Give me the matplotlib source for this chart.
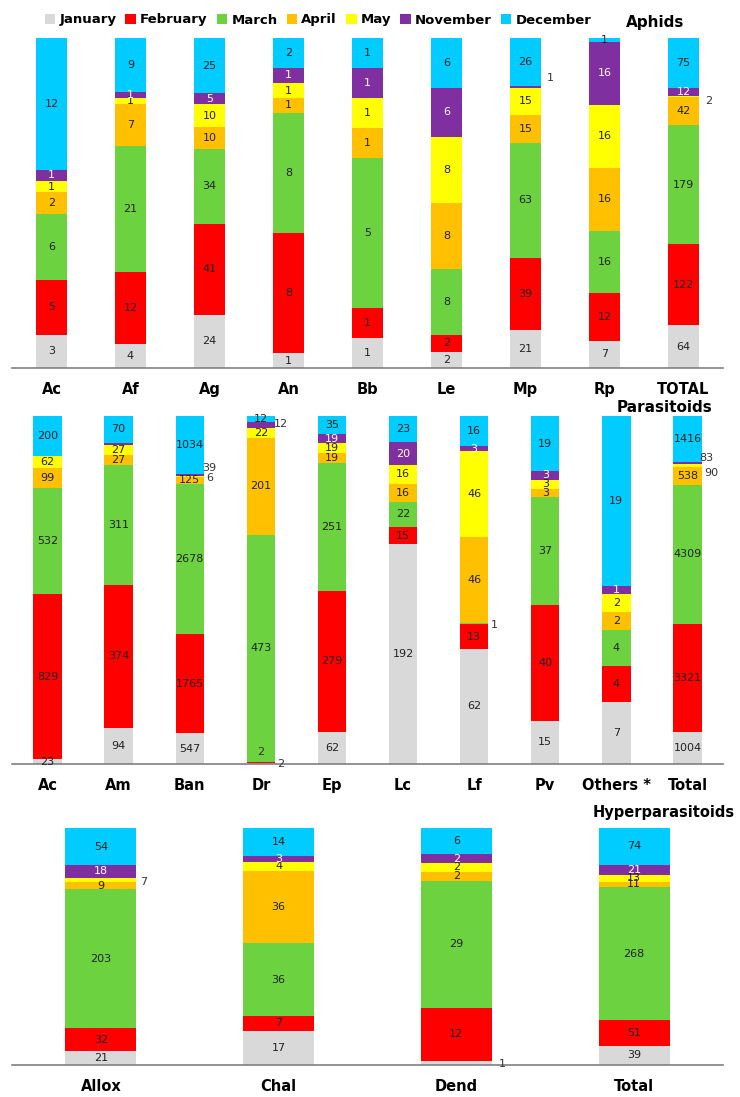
import matplotlib
matplotlib.use('Agg')
import matplotlib.pyplot as plt
import numpy as np

months = ['January', 'February', 'March', 'April', 'May', 'November', 'December']
month_colors = ['#D9D9D9', '#FF0000', '#6CD23F', '#FFC000', '#FFFF00', '#7F2FA0', '#00CCFF']

# Aphids (Jan, Feb, Mar, Apr, May, Nov, Dec)
aphid_names = ['Ac', 'Af', 'Ag', 'An', 'Bb', 'Le', 'Mp', 'Rp', 'TOTAL']
aphid_jan = [3, 4, 24, 1, 1, 2, 21, 7, 64]
aphid_feb = [5, 12, 41, 8, 1, 2, 39, 12, 122]
aphid_mar = [6, 21, 34, 8, 5, 8, 63, 16, 179]
aphid_apr = [2, 7, 10, 1, 1, 8, 15, 16, 42]
aphid_may = [1, 1, 10, 1, 1, 8, 15, 16, 2]
aphid_nov = [1, 1, 5, 1, 1, 6, 1, 16, 12]
aphid_dec = [12, 9, 25, 2, 1, 6, 26, 1, 75]

# Parasitoids
para_names = ['Ac', 'Am', 'Ban', 'Dr', 'Ep', 'Lc', 'Lf', 'Pv', 'Others *', 'Total']
para_jan = [23, 94, 547, 2, 62, 192, 62, 15, 7, 1004]
para_feb = [829, 374, 1765, 2, 279, 15, 13, 40, 4, 3321]
para_mar = [532, 311, 2678, 473, 251, 22, 1, 37, 4, 4309]
para_apr = [99, 27, 125, 201, 19, 16, 46, 3, 2, 538]
para_may = [62, 27, 6, 22, 19, 16, 46, 3, 2, 90]
para_nov = [0, 5, 39, 12, 19, 20, 3, 3, 1, 83]
para_dec = [200, 70, 1034, 12, 35, 23, 16, 19, 19, 1416]

# Hyperparasitoids
hyper_names = ['Allox', 'Chal', 'Dend', 'Total']
hyper_jan = [21, 17, 1, 39]
hyper_feb = [32, 7, 12, 51]
hyper_mar = [203, 36, 29, 268]
hyper_apr = [9, 36, 2, 11]
hyper_may = [7, 4, 2, 13]
hyper_nov = [18, 3, 2, 21]
hyper_dec = [54, 14, 6, 74]

# labels moved off their segment: (bar index, month index) -> (dx in bar units, dy in %)
aphid_outside = {(6, 5): (0.32, 2.5), (8, 4): (0.32, -1.5)}
para_outside = {(2, 5): (0.28, 2.0), (2, 4): (0.28, -0.5), (3, 5): (0.28, 0.3),
                (3, 1): (0.28, -0.5), (3, 0): (0.0, 3.2), (6, 2): (0.28, -0.5),
                (9, 5): (0.27, 1.6), (9, 4): (0.34, -2.0)}
hyper_outside = {(0, 4): (0.24, -0.8), (2, 0): (0.26, -0.5)}
hidden = {('para', 1, 5)}


def draw_panel(ax, key, names, series, outside, title, title_xy, title_size=11):
    data = np.array(series, dtype=float)  # months x bars
    pct = data / data.sum(axis=0) * 100
    x = np.arange(len(names))
    bottom = np.zeros(len(names))
    for m in range(len(months)):
        ax.bar(x, pct[m], 0.4, bottom=bottom, color=month_colors[m], label=months[m])
        for i in range(len(names)):
            v = data[m, i]
            if v == 0 or (key, i, m) in hidden:
                continue
            yc = bottom[i] + pct[m, i] / 2
            txt = '%d' % v
            if (i, m) in outside:
                dx, dy = outside[(i, m)]
                ax.text(i + dx, yc + dy, txt, ha='center', va='center', fontsize=8, color='#333333')
            else:
                col = 'white' if m == 5 else '#222222'
                ax.text(i, yc, txt, ha='center', va='center', fontsize=8, color=col)
        bottom += pct[m]
    ax.set_xlim(-0.5, len(names) - 0.5)
    ax.set_ylim(0, 100)
    ax.set_xticks(x)
    ax.set_xticklabels(names, fontweight='bold', fontsize=10.5)
    ax.tick_params(axis='x', length=0, pad=10)
    ax.set_yticks([])
    for s in ['top', 'left', 'right']:
        ax.spines[s].set_visible(False)
    ax.spines['bottom'].set_color('#808080')
    ax.spines['bottom'].set_linewidth(1.2)
    ax.figure.text(title_xy[0], title_xy[1], title, ha='center', va='center',
                   fontweight='bold', fontsize=title_size)


fig = plt.figure(figsize=(7.40, 10.97), dpi=100)
W, H = 740.0, 1097.0

ax1 = fig.add_axes([12 / W, 1 - 368 / H, 711 / W, 330 / H])
ax2 = fig.add_axes([12 / W, 1 - 764 / H, 711 / W, 348 / H])
ax3 = fig.add_axes([12 / W, 1 - 1065 / H, 711 / W, 237 / H])

draw_panel(ax1, 'aphid', aphid_names,
           [aphid_jan, aphid_feb, aphid_mar, aphid_apr, aphid_may, aphid_nov, aphid_dec],
           aphid_outside, 'Aphids', (655 / W, 1 - 22 / H))
draw_panel(ax2, 'para', para_names,
           [para_jan, para_feb, para_mar, para_apr, para_may, para_nov, para_dec],
           para_outside, 'Parasitoids', (665 / W, 1 - 408 / H))
draw_panel(ax3, 'hyper', hyper_names,
           [hyper_jan, hyper_feb, hyper_mar, hyper_apr, hyper_may, hyper_nov, hyper_dec],
           hyper_outside, 'Hyperparasitoids', (664 / W, 1 - 813 / H), title_size=10.5)

handles, labels = ax1.get_legend_handles_labels()
fig.legend(handles, labels, loc='center', bbox_to_anchor=(318 / W, 1 - 20 / H), ncol=7,
           frameon=False, prop={'weight': 'bold', 'size': 9.5}, handlelength=0.8,
           handleheight=0.8, handletextpad=0.3, columnspacing=0.7)

fig.savefig('out.png', dpi=100)
